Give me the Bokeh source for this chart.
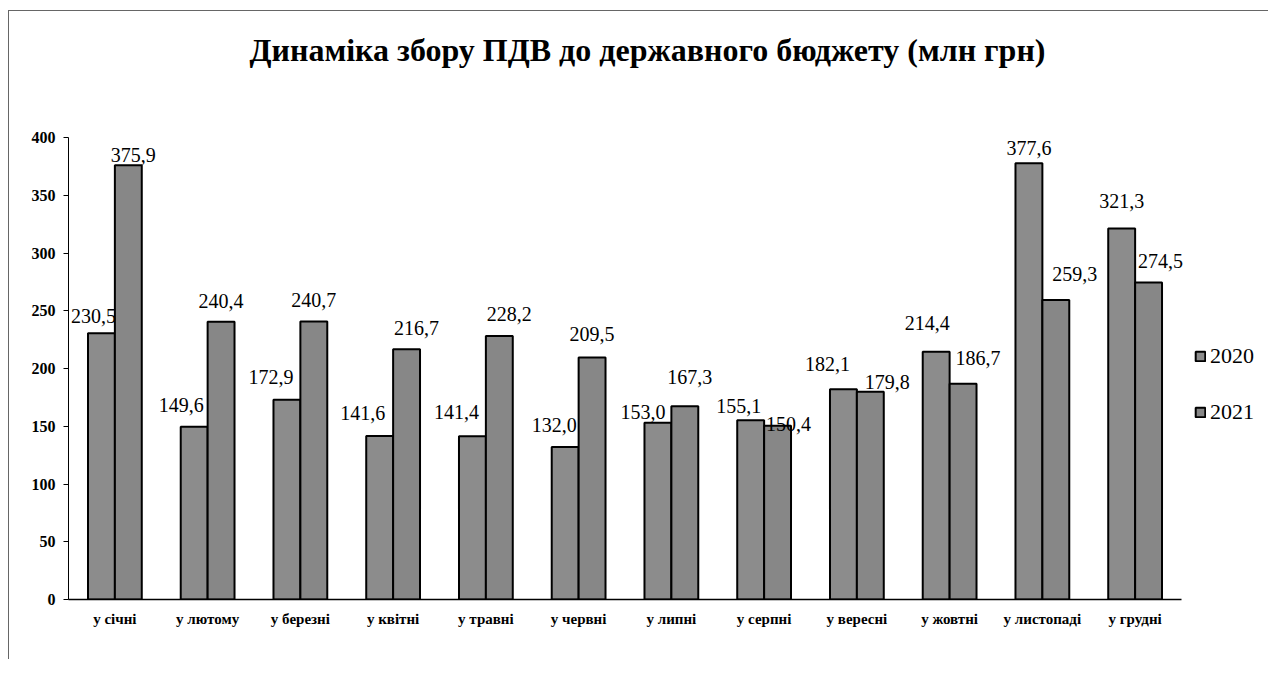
from bokeh.plotting import figure
from bokeh.models import (ColumnDataSource, Range1d, Legend, LegendItem,
                          SingleIntervalTicker, FixedTicker, Title)
from bokeh.transform import dodge
from bokeh.core.properties import value
from bokeh.embed import file_html
from bokeh.resources import INLINE

# ---- data ----
months = ["у січні", "у лютому", "у березні", "у квітні", "у травні", "у червні",
          "у липні", "у серпні", "у вересні", "у жовтні", "у листопаді", "у грудні"]
v2020 = [230.5, 149.6, 172.9, 141.6, 141.4, 132.0, 153.0, 155.1, 182.1, 214.4, 377.6, 321.3]
v2021 = [375.9, 240.4, 240.7, 216.7, 228.2, 209.5, 167.3, 150.4, 179.8, 186.7, 259.3, 274.5]
series = ["2020", "2021"]

# ---- label placement (style, pixels) ----
dx2020 = [-8, -13, -16, -17, -16, -11, -15, -12, -16, -9, 0, 0]
dy2020 = [17, 22, 23, 23, 24, 22, 11, 14, 25, 29, 15, 27]
dx2021 = [5, 0, 0, 10, 10, 0, 5, 11, 17, 15, 19, 12]
dy2021 = [10, 21, 21, 21, 22, 24, 29, 2, 10, 26, 26, 21]

def fmt(v):
    return f"{v:.1f}".replace(".", ",")

n = len(months)
centers = [i + 0.5 for i in range(n)]

src = ColumnDataSource(dict(
    xc=centers, a=v2020, b=v2021,
    la=[fmt(v) for v in v2020], lb=[fmt(v) for v in v2021],
    dxa=dx2020, dya=[-d for d in dy2020], dxb=dx2021, dyb=[-d for d in dy2021],
))

SERIF = "Liberation Serif"

CAT_PX = 1113 / n          # pixel width of one month group
FRAME_W = 1200
p = figure(x_range=Range1d(0, FRAME_W / CAT_PX), y_range=Range1d(0, 400),
           frame_width=FRAME_W, frame_height=462, output_backend="svg", toolbar_location=None,
           min_border_left=59, min_border_right=0, min_border_bottom=60, min_border_top=0)
p.margin = (10, 0, 0, 8)
p.styles = {"border-left": "1px solid #666", "border-top": "1px solid #666"}

p.title = None
p.add_layout(Title(text=" ", text_font_size="48px"), "above")
p.add_layout(Title(text="Динаміка збору ПДВ  до державного бюджету (млн грн)", align="left",
                   text_font=SERIF, text_font_size="32px", text_font_style="bold",
                   text_color="black", offset=181), "above")
p.add_layout(Title(text=" ", text_font_size="1px"), "above")

p.outline_line_color = None
p.background_fill_color = "white"
p.border_fill_color = "white"

W = 0.29
r1 = p.vbar(x=dodge("xc", -0.145), top="a", width=W, source=src,
            fill_color="#8c8c8c", line_color="black", line_width=2)
r2 = p.vbar(x=dodge("xc", 0.145), top="b", width=W, source=src,
            fill_color="#878787", line_color="black", line_width=2)

common = dict(text_font=value(SERIF), text_font_size="20px", text_color="black",
              text_align="center", text_baseline="middle")
p.text(x=dodge("xc", -0.145), y="a", text="la", x_offset="dxa",
       y_offset="dya", source=src, **common)
p.text(x=dodge("xc", 0.145), y="b", text="lb", x_offset="dxb",
       y_offset="dyb", source=src, **common)

# axes
p.yaxis.ticker = SingleIntervalTicker(interval=50)
p.yaxis.major_label_text_font = SERIF
p.yaxis.major_label_text_font_style = "bold"
p.yaxis.major_label_text_font_size = "16px"
p.yaxis.major_label_text_color = "black"
p.yaxis.axis_line_color = "black"
p.yaxis.major_tick_line_color = "black"
p.yaxis.major_tick_out = 5
p.yaxis.major_tick_in = 0
p.yaxis.minor_tick_line_color = None
p.yaxis.major_label_standoff = 8

p.xaxis.ticker = FixedTicker(ticks=centers)
p.xaxis.major_label_overrides = {c: m for c, m in zip(centers, months)}
p.xaxis.bounds = (0, n)
p.xaxis.major_label_text_font = SERIF
p.xaxis.major_label_text_font_style = "bold"
p.xaxis.major_label_text_font_size = "15px"
p.xaxis.major_label_text_color = "black"
p.xaxis.axis_line_color = "black"
p.xaxis.axis_line_width = 1.5
p.xaxis.major_tick_line_color = None
p.xaxis.minor_tick_line_color = None
p.xaxis.major_label_standoff = 5

p.xgrid.grid_line_color = None
p.ygrid.grid_line_color = "#9a9a9a"
p.ygrid.grid_line_dash = "1 2"
p.ygrid.bounds = (0, n)

legend = Legend(items=[LegendItem(label=series[0], renderers=[r1]),
                       LegendItem(label=series[1], renderers=[r2])],
                location=(1126, 174), orientation="vertical",
                label_text_font=SERIF, label_text_font_size="22px", label_text_color="black",
                glyph_width=12, glyph_height=12, spacing=30, padding=0, margin=0,
                label_standoff=4, border_line_color=None, background_fill_alpha=0)
p.add_layout(legend)

open("out.html", "w").write(file_html(p, INLINE))
